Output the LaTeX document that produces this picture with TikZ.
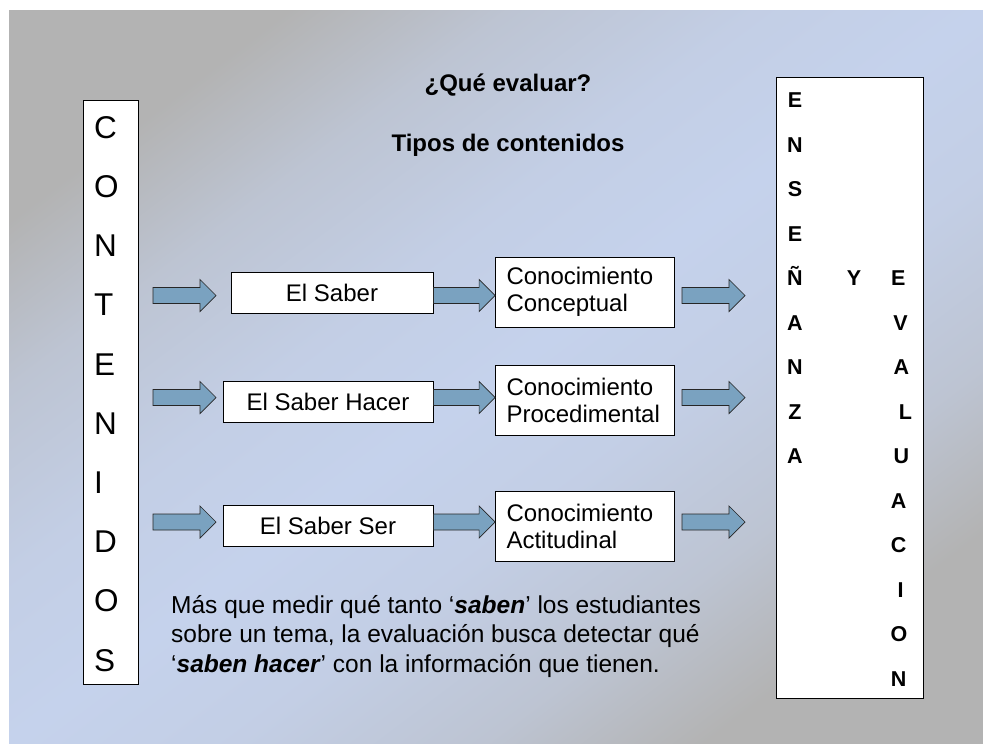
\documentclass[tikz,border=0pt]{standalone}
\usepackage{fontspec}
\setmainfont{Liberation Sans}
\usetikzlibrary{calc}
\definecolor{bggray}{RGB}{179,179,179}
\definecolor{bgblue}{RGB}{197,210,236}
\definecolor{arrowfill}{RGB}{122,162,192}
\colorlet{bgmidA}{bgblue!55!bggray}
\colorlet{bgmidB}{bgblue!88!bggray}
\pgfdeclareverticalshading{bgshade}{100bp}{color(0bp)=(bggray); color(25bp)=(bggray); color(33bp)=(bgmidA); color(42bp)=(bgmidB); color(50bp)=(bgblue); color(58bp)=(bgmidB); color(67bp)=(bgmidA); color(75bp)=(bggray); color(100bp)=(bggray)}
\newcommand\blockarrow[2]{\draw[barrow] let \p1=(#1), \p2=(#2) in (\x1,\y1+8pt) -- (\x2-16pt,\y1+8pt) -- (\x2-16pt,\y1+16pt) -- (\x2,\y1) -- (\x2-16pt,\y1-16pt) -- (\x2-16pt,\y1-8pt) -- (\x1,\y1-8pt) -- cycle;}
\begin{document}
\begin{tikzpicture}[x=1pt,y=-1pt,
  box/.style={draw=black, fill=white, line width=0.8pt, inner sep=0pt},
  lbox/.style={box, minimum height=41pt, font=\fontsize{24}{27}\selectfont},
  cbox/.style={box, text width=157pt, inner xsep=11pt, inner ysep=0pt, minimum height=70pt, align=left, font=\fontsize{24}{27}\selectfont},
  barrow/.style={draw=black!85, fill=arrowfill, line width=0.7pt},
  vletter/.style={anchor=base west, inner sep=0pt, font=\fontsize{31.5}{31.5}\selectfont},
  bletter/.style={anchor=base, inner sep=0pt, font=\bfseries\fontsize{21.5}{21.5}\selectfont},
  title/.style={anchor=base, inner sep=0pt, font=\bfseries\fontsize{24}{27}\selectfont},
  ptext/.style={anchor=base west, inner sep=0pt, font=\fontsize{24.5}{29.5}\selectfont}]
\useasboundingbox (0,0) rectangle (983,744);
\fill[white] (0,0) rectangle (983,744);
\shade[shading=bgshade, shading angle=37] (9,10) rectangle (983,744);

% titles
\node[title] (t1) at (508,91.5) {¿Qué evaluar?};
\node[title] (t2) at (508,151) {Tipos de contenidos};

% left column box
\node[box, minimum width=55pt, minimum height=584pt] (cont) at (110.5,392) {};
\foreach \l [count=\i from 0] in {C,O,N,T,E,N,I,D,O,S}
  \node[vletter] (cl\i) at (94, 138.3+59.2*\i) {\l};

% right column box
\node[box, minimum width=147pt, minimum height=621pt] (ens) at (849.5,387.5) {};
\foreach \l [count=\i from 0] in {E,N,S,E,Ñ,A,N,Z,A}
  \node[bletter] (el\i) at (795, 107.7+44.5*\i) {\l};
\node[bletter] (yy) at (854, 107.7+44.5*4) {Y};
\foreach \l/\xx [count=\i from 4] in {E/898.3, V/900.5, A/901.5, L/905.5, U/901.5, A/898.7, C/898.7, I/900.5, O/899, N/898.7}
  \node[bletter] (er\i) at (\xx, 107.7+44.5*\i) {\l};

% rows
\node[lbox, minimum width=202pt] (s1) at (332,292.5) {El Saber};
\node[lbox, minimum width=210pt] (s2) at (328,401.5) {El Saber Hacer};
\node[lbox, minimum width=210pt] (s3) at (328,526) {El Saber Ser};
\node[cbox] (c1) at (585,292) {Conocimiento\\Conceptual};
\node[cbox] (c2) at (585,400) {Conocimiento\\Procedimental};
\node[cbox] (c3) at (585,526) {Conocimiento\\Actitudinal};

\coordinate (a1s) at (153,295.5); \coordinate (a1e) at (216,295.5);
\coordinate (a2s) at (153,397.5); \coordinate (a2e) at (216,397.5);
\coordinate (a3s) at (153,522);   \coordinate (a3e) at (216,522);
\coordinate (b1s) at (682,295.5); \coordinate (b1e) at (745,295.5);
\coordinate (b2s) at (682,397.5); \coordinate (b2e) at (745,397.5);
\coordinate (b3s) at (682,522);   \coordinate (b3e) at (745,522);

\blockarrow{a1s}{a1e}
\blockarrow{a2s}{a2e}
\blockarrow{a3s}{a3e}
\blockarrow{s1.east |- a1s}{c1.west |- a1s}
\blockarrow{s2.east |- a2s}{c2.west |- a2s}
\blockarrow{s3.east |- a3s}{c3.west |- a3s}
\blockarrow{b1s}{b1e}
\blockarrow{b2s}{b2e}
\blockarrow{b3s}{b3e}

% paragraph
\node[ptext] (p1) at (171,613) {Más que medir qué tanto ‘\textbf{\textit{saben}}’ los estudiantes};
\node[ptext] (p2) at (171,642.5) {sobre un tema, la evaluación busca detectar qué};
\node[ptext] (p3) at (171,672) {‘\textbf{\textit{saben hacer}}’ con la información que tienen.};
\end{tikzpicture}
\end{document}
